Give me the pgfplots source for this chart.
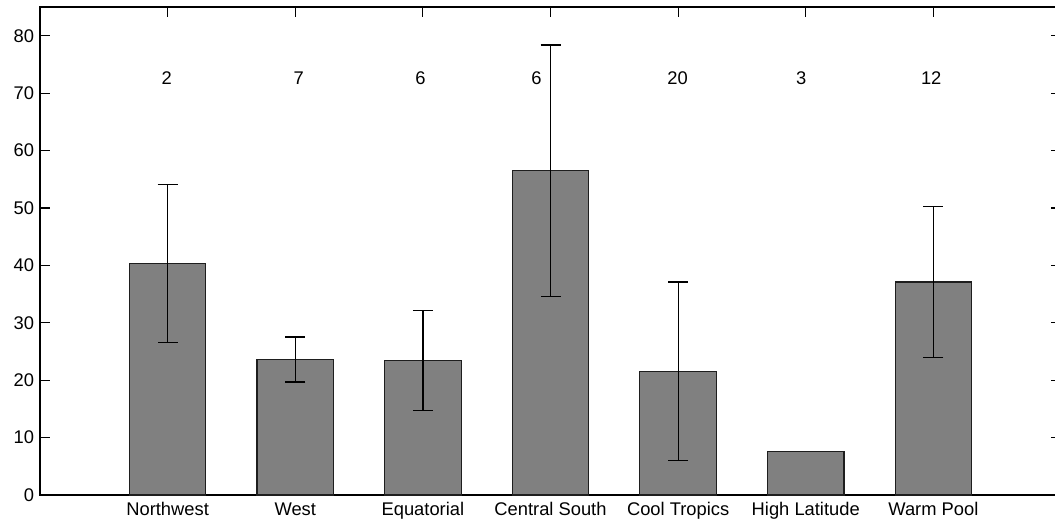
\documentclass[border=0pt]{standalone}
\usepackage{fontspec}
\setmainfont{Liberation Sans}
\usepackage{pgfplots}
\pgfplotsset{compat=1.18}
\definecolor{barfill}{RGB}{128,128,128}
\definecolor{baredge}{RGB}{30,30,30}
\begin{document}
\begin{tikzpicture}
\begin{axis}[name=ax, at={(0,0)}, anchor=south west,
  width=612.6pt, height=292.8pt, scale only axis,
  xmin=0, xmax=8, ymin=0, ymax=85,
  xtick={1,2,3,4,5,6,7},
  xticklabels={Northwest,West,Equatorial,Central South,Cool Tropics,High Latitude,Warm Pool},
  ytick={0,10,20,30,40,50,60,70,80},
  tick align=inside, major tick length=6pt,
  tick style={black, line width=0.7pt},
  axis line style={black, line width=0.7pt},
  font=\fontsize{11}{13}\selectfont,
  xticklabel style={yshift=-1pt},
  /pgf/number format/assume math mode=true,
  clip=false]
\addplot[ybar, bar width=0.6, bar shift=0pt, fill=barfill, draw=baredge, line width=0.7pt,
  error bars/.cd, y dir=both, y explicit,
  error bar style={black, line width=0.75pt},
  error mark options={rotate=90, mark size=6pt, black, line width=0.75pt}]
coordinates {
  (1,40.3) +- (0,13.8)
  (2,23.6) +- (0,3.9)
  (3,23.4) +- (0,8.7)
  (4,56.5) +- (0,21.9)
  (5,21.55) +- (0,15.55)
  (7,37.1) +- (0,13.1)
};
\addplot[ybar, bar width=0.6, bar shift=0pt, fill=barfill, draw=baredge, line width=0.7pt]
coordinates {(6,7.53)};
\addplot[draw=none, mark=none, nodes near coords, point meta=explicit symbolic,
  every node near coord/.style={anchor=center, black}]
coordinates {
  (0.992,72.6) [2]
  (2.028,72.6) [7]
  (2.981,72.6) [6]
  (3.890,72.6) [6]
  (4.996,72.6) [20]
  (5.965,72.6) [3]
  (6.983,72.6) [12]
};
\end{axis}
\pgfresetboundingbox
\path[use as bounding box] ([xshift=-24pt,yshift=-19.2pt]ax.south west) rectangle ([xshift=-3.6pt,yshift=4.2pt]ax.north east);
\end{tikzpicture}
\end{document}
